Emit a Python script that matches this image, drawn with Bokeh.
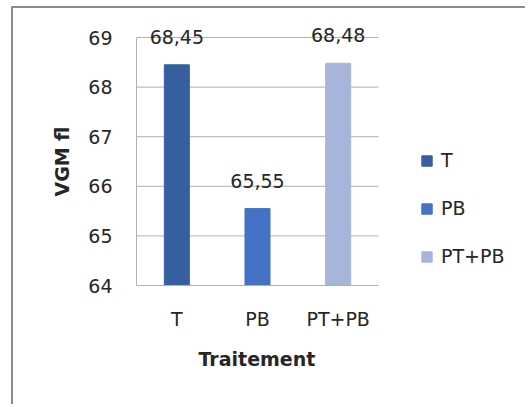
from bokeh.plotting import figure
from bokeh.models import ColumnDataSource, FixedTicker, LabelSet, Legend, LegendItem, Range1d, Title
from bokeh.core.properties import value
from bokeh.embed import file_html
from bokeh.resources import INLINE

# Mean corpuscular volume (VGM, fl) by treatment group
traitements = ["T", "PB", "PT+PB"]
vgm = [68.45, 65.55, 68.48]
couleurs = ["#365F9F", "#4472C4", "#A8B5DA"]
y_ticks = [64, 65, 66, 67, 68, 69]

FONT = "DejaVu Sans"
TXT = "#262626"
GRID = "#b0b0b0"

# one unit per category, bars at the slot centres
pos = [i + 0.5 for i in range(len(traitements))]
n_cat = len(traitements)

source = ColumnDataSource(dict(
    x=pos,
    val=vgm,
    col=couleurs,
    lab=[f"{v:.2f}".replace(".", ",") for v in vgm],
))

# the plotting area also holds the legend on the right and some headroom
# above the top tick so the value labels are not clipped
p = figure(
    width=514, height=398,
    x_range=Range1d(0, 4.847), y_range=Range1d(y_ticks[0], y_ticks[-1] + 0.343),
    output_backend="svg", toolbar_location=None,
    min_border_left=123, min_border_right=0,
    min_border_top=12, min_border_bottom=121,
)
p.margin = (6, 0, 0, 11)
p.styles = {"border-left": "2px solid #8c8c8c", "border-top": "2px solid #8c8c8c"}

# horizontal gridlines across the category slots only
p.segment(x0=[0] * len(y_ticks), x1=[n_cat] * len(y_ticks), y0=y_ticks, y1=y_ticks,
          line_color=GRID, line_width=1)

r = p.vbar(x="x", top="val", bottom=y_ticks[0], width=0.31, color="col", source=source)

labels = LabelSet(x="x", y="val", text="lab", source=source,
                  text_align="center", text_baseline="alphabetic", y_offset=21,
                  text_font=value(FONT), text_font_size=value("19px"), text_color=value(TXT))
p.add_layout(labels)

# Axes
p.outline_line_color = None
p.xgrid.grid_line_color = None
p.ygrid.grid_line_color = None
p.yaxis.ticker = FixedTicker(ticks=y_ticks)
p.xaxis.ticker = FixedTicker(ticks=pos)
p.xaxis.major_label_overrides = {x: t for x, t in zip(pos, traitements)}
p.xaxis.bounds = (0, n_cat)
p.yaxis.bounds = (y_ticks[0], y_ticks[-1])
for ax in (p.xaxis[0], p.yaxis[0]):
    ax.axis_line_color = GRID
    ax.major_tick_line_color = None
    ax.minor_tick_line_color = None
    ax.major_tick_out = 0
    ax.major_tick_in = 0
    ax.minor_tick_out = 0
    ax.major_label_text_font = FONT
    ax.major_label_text_font_size = "19px"
    ax.major_label_text_color = TXT
p.yaxis.major_label_standoff = 24
p.xaxis.major_label_standoff = 22

# axis titles, centred on the category area rather than the whole frame
x_title = Title(text="Traitement", align="left", offset=62, standoff=27,
                text_font=FONT, text_font_size="19px", text_font_style="bold", text_color=TXT)
p.add_layout(x_title, "below")
y_title = Title(text="VGM fl", align="left", offset=89, standoff=26,
                text_font=FONT, text_font_size="19px", text_font_style="bold", text_color=TXT)
p.add_layout(y_title, "left")

legend = Legend(
    items=[LegendItem(label=t, renderers=[r], index=i) for i, t in enumerate(traitements)],
    location=(284, 18),
    glyph_width=13, glyph_height=13, label_height=20,
    label_standoff=8, spacing=26, padding=0, margin=0,
    border_line_color=None, background_fill_alpha=0,
    label_text_font=FONT, label_text_font_size="19px", label_text_color=TXT,
)
p.add_layout(legend)

open("out.html", "w").write(file_html(p, INLINE))
